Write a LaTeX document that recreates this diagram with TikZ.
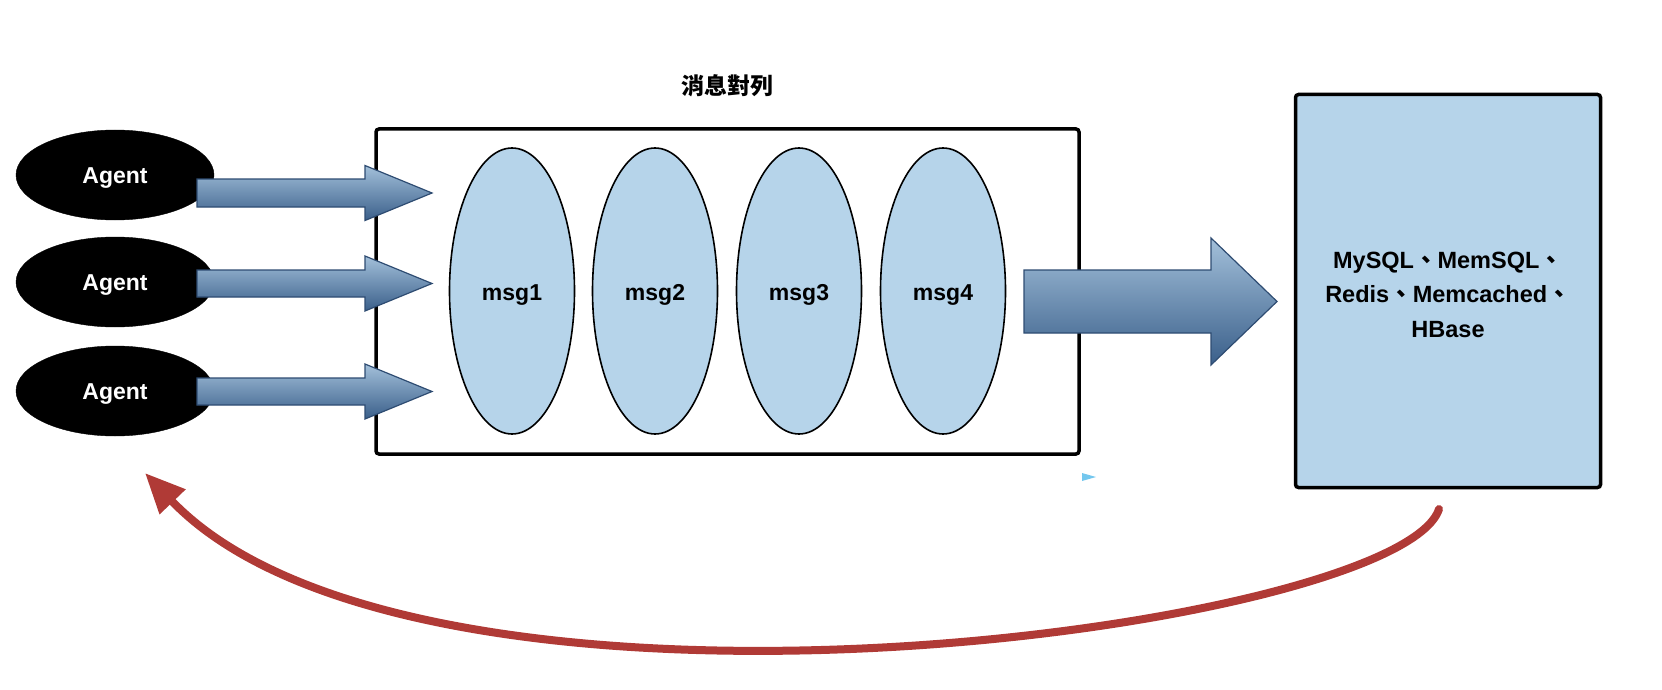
\documentclass[tikz,border=0pt]{standalone}
\usepackage{fontspec}
\setmainfont{Liberation Sans}
\newfontfamily\cjk{Noto Sans CJK TC}
\usetikzlibrary{arrows.meta,shapes.geometric}
\definecolor{msgfill}{HTML}{B6D4EA}
\definecolor{arrtop}{HTML}{A3C0DA}
\definecolor{arrbot}{HTML}{3A5F8A}
\definecolor{arrline}{HTML}{2E4C72}
\definecolor{backred}{HTML}{B03A36}
\definecolor{tinyblue}{HTML}{74C7EE}
\newcommand\fatarrow[6]{%
  \shade[top color=arrtop, bottom color=arrbot, draw=arrline, line width=1.2pt, line join=miter]
    (#1,#4-#5) -- (#2,#4-#5) -- (#2,#4-#6) -- (#3,#4) -- (#2,#4+#6) -- (#2,#4+#5) -- (#1,#4+#5) -- cycle;}
\tikzset{
  agent/.style={ellipse, fill=black, draw=black, minimum width=198pt, minimum height=90pt, inner sep=0pt,
    text=white, font=\fontsize{23}{27}\selectfont\bfseries, text height=17.6pt, text depth=0pt},
  msgnode/.style={ellipse, fill=msgfill, draw=black, line width=1.6pt, minimum width=125pt, minimum height=286pt,
    inner sep=0pt, font=\fontsize{23}{27}\selectfont\bfseries, text height=18pt, text depth=0pt},
  boxq/.style={draw=black, line width=3.5pt, rounded corners=3pt, inner sep=0pt},
  dbbox/.style={draw=black, fill=msgfill, line width=3.5pt, rounded corners=3pt, inner sep=0pt},
  dbtext/.style={align=center, inner sep=0pt, font=\fontsize{23.5}{34.5}\selectfont\bfseries},
  backarrow/.style={draw=backred, line width=8pt, line cap=round, -{Triangle[length=40pt, width=34pt]}}
}
\begin{document}
\begin{tikzpicture}[x=1pt, y=-1pt]
\useasboundingbox (0,0) rectangle (1662,690);
% queue box and title
\node[boxq, minimum width=703pt, minimum height=325pt] (queue) at (727.5,291.5) {};
\node[font=\fontsize{23}{27}\selectfont\cjk\bfseries] (title) at (727,86) {消息對列};
% messages
\node[msgnode] (m1) at (512,291) {msg1};
\node[msgnode] (m2) at (655,291) {msg2};
\node[msgnode] (m3) at (799,291) {msg3};
\node[msgnode] (m4) at (943,291) {msg4};
% agents
\node[agent] (a1) at (115,175) {Agent};
\node[agent] (a2) at (115,282) {Agent};
\node[agent] (a3) at (115,391) {Agent};
% storage box
\node[dbbox, minimum width=305pt, minimum height=393pt] (db) at (1448,291) {};
\node[dbtext] (dbt) at ([yshift=-3.5pt]db.center)
  {MySQL{\cjk 、}MemSQL{\cjk 、}\\Redis{\cjk 、}Memcached{\cjk 、}\\HBase};
% fat arrows
\fatarrow{197}{365}{432}{193}{14}{27.5}
\fatarrow{197}{365}{432}{283.5}{13.5}{27.5}
\fatarrow{197}{365}{432}{391.5}{13.5}{27.5}
\fatarrow{1024}{1211}{1277}{301.5}{31.5}{63.5}
% tiny blue mark
\fill[tinyblue] (1082,473) -- (1096,477) -- (1082,481) -- cycle;
% back arrow
\coordinate (s) at (1439,509);
\coordinate (e) at (145,473);
\draw[backarrow] (s) .. controls (1400,630) and (420,760) .. (e);
\end{tikzpicture}
\end{document}
